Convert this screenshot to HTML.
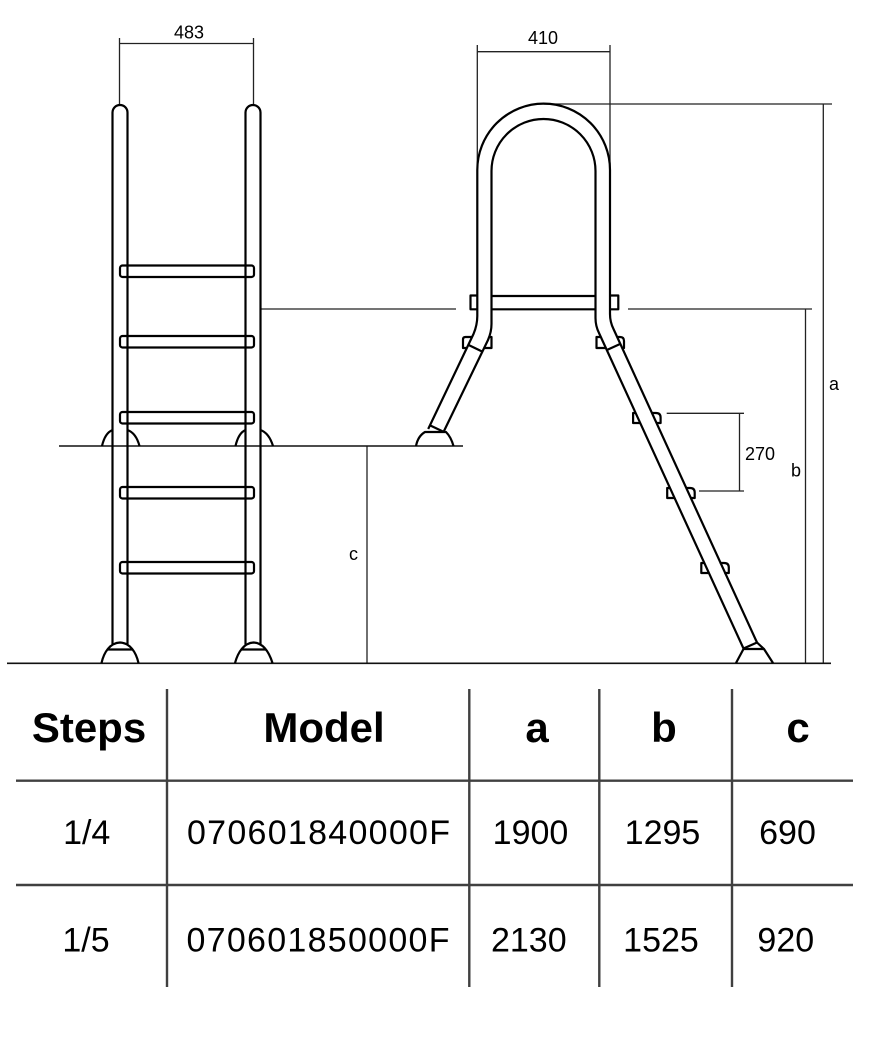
<!DOCTYPE html>
<html>
<head>
<meta charset="utf-8">
<style>
  html,body{margin:0;padding:0;background:#fff;}
  body{width:887px;height:1052px;overflow:hidden;}
  svg{display:block;}
  text{font-family:"Liberation Sans",Arial,sans-serif;fill:#000;}
</style>
</head>
<body>
<svg width="887" height="1052" viewBox="0 0 887 1052" xmlns="http://www.w3.org/2000/svg">
  <rect width="887" height="1052" fill="#fff"/>

  <!-- ===== Dimension lines (thin) ===== -->
  <g stroke="#222" stroke-width="1.3" fill="none">
    <!-- 483 -->
    <path d="M119.5,43.5 L253.5,43.5 M119.5,38 L119.5,105 M253.5,38 L253.5,105"/>
    <!-- 410 -->
    <path d="M477.3,51.7 L610,51.7 M477.3,45 L477.3,170 M610,45 L610,170"/>
    <!-- a -->
    <path d="M543.7,104 L832,104 M823.3,104 L823.3,663"/>
    <!-- b -->
    <path d="M805.5,309 L805.5,663"/>
    <!-- level line at b -->
    <path d="M261,309 L456,309 M628,309 L812,309"/>
    <!-- 270 -->
    <path d="M666.7,413.3 L744,413.3 M699,491 L744,491 M739.5,413.3 L739.5,491"/>
    <!-- c -->
    <path d="M367,446 L367,663"/>
  </g>
  <!-- deck line & ground -->
  <g stroke="#111" stroke-width="1.6" fill="none">
    <path d="M59,446 L463,446"/>
    <path d="M7,663.3 L831,663.3"/>
  </g>

  <!-- dimension labels -->
  <g font-size="18">
    <text x="189" y="38.3" text-anchor="middle">483</text>
    <text x="543" y="44" text-anchor="middle">410</text>
    <text x="745" y="460">270</text>
    <text x="829" y="390">a</text>
    <text x="791" y="476.5">b</text>
    <text x="349" y="560">c</text>
  </g>

  <!-- ===== Left ladder (front view) ===== -->
  <g stroke="#000" stroke-width="2.2" fill="none" stroke-linejoin="round">
    <!-- rungs -->
    <rect x="120" y="265.5" width="134" height="11.5" rx="2.5"/>
    <rect x="120" y="336" width="134" height="11.5" rx="2.5"/>
    <rect x="120" y="412" width="134" height="11.5" rx="2.5"/>
    <rect x="120" y="487" width="134" height="11.5" rx="2.5"/>
    <rect x="120" y="562" width="134" height="11.5" rx="2.5"/>
    <!-- rails -->
    <path d="M112.5,645 L112.5,112.5 A7.5,7.5 0 0 1 127.5,112.5 L127.5,645"/>
    <path d="M245.5,645 L245.5,112.5 A7.5,7.5 0 0 1 260.5,112.5 L260.5,645"/>
    <!-- deck anchors -->
    <path d="M102,446 Q105,433 112.5,430"/>
    <path d="M127.5,430 Q136,433 139.5,446"/>
    <path d="M235.5,446 Q238.5,433 245.5,430"/>
    <path d="M260.5,430 Q269,433 273,446"/>
    <!-- feet -->
    <path d="M101.5,663 C104,652 110,643 120,642.5 C130,643 136,652 138.5,663"/>
    <path d="M108,649.5 L132,649.5"/>
    <path d="M235,663 C238,652 244,643 253.5,642.5 C263,643 269,652 272.5,663"/>
    <path d="M241.5,649.5 L265.5,649.5"/>
  </g>

  <!-- ===== Right ladder (side view) ===== -->
  <g stroke="#000" stroke-width="2.2" fill="none" stroke-linejoin="round">
    <!-- arch outer / left leg outer / right leg outer -->
    <path d="M428.2,429 L473.5,334 Q477.3,325 477.3,316 L477.3,170 A66.35,66.35 0 0 1 610,170 L610,314 Q610,322 613.5,329 L757,642.5"/>
    <!-- arch inner / legs inner -->
    <path d="M444,431 L488,340 Q491.5,332 491.5,324 L491.5,171 A52,52 0 0 1 595.5,171 L595.5,318 Q595.5,326 599,333 L743.5,648.5"/>
    <!-- crossbar -->
    <path d="M491.5,296 L595.5,296 M491.5,309.3 L595.5,309.3"/>
    <!-- crossbar tabs -->
    <path d="M477.3,295.5 L470.5,295.5 L470.5,309.3 L477.3,309.3"/>
    <path d="M610,295.5 L618.3,295.5 L618.3,309.3 L610,309.3"/>
    <!-- joints -->
    <path d="M468.6,345 L482.1,351.5"/>
    <path d="M606.9,350 L620.6,343.8"/>
    <!-- brackets at bend -->
    <path d="M472.4,337 L465.5,337 Q463,337 463,339.5 L463,348 L467.1,348"/>
    <path d="M489,337 L491.5,337 L491.5,348 L483.7,348"/>
    <path d="M601,337 L596.5,337 L596.5,348 L606,348"/>
    <path d="M617,337 L620,337 Q624,337 624,341 L624,348 L622,348"/>
    <!-- step brackets on right leg -->
    <path d="M635.6,413 L633.1,413 L633.1,423 L640.1,423"/>
    <path d="M651.6,413 L656,413 Q660.6,413 660.6,417.5 L660.6,423 L656.1,423"/>
    <path d="M669.7,488 L667.2,488 L667.2,498 L674.2,498"/>
    <path d="M685.7,488 L690.1,488 Q694.7,488 694.7,492.5 L694.7,498 L690.2,498"/>
    <path d="M703.8,563 L701.3,563 L701.3,573 L708.3,573"/>
    <path d="M719.8,563 L724.2,563 Q728.8,563 728.8,567.5 L728.8,573 L724.3,573"/>
    <!-- left foot -->
    <path d="M416,446 Q418,436 425,432 L446,432 Q451,437 453.5,446"/>
    <path d="M429.8,425.3 L444,432"/>
    <!-- right foot -->
    <path d="M736,663 L743.5,649 L764,649 L773,663"/>
    <path d="M743.5,648.5 L757,642.5 L764,649"/>
  </g>

  <!-- ===== Table ===== -->
  <g stroke="#404040" stroke-width="2.4" fill="none">
    <path d="M16,780.7 L853,780.7 M16,885 L853,885"/>
    <path d="M167,689 L167,987 M469.3,689 L469.3,987 M599.3,689 L599.3,987 M732,689 L732,987"/>
  </g>

  <g font-size="42" font-weight="bold" text-anchor="middle">
    <text x="89" y="742">Steps</text>
    <text x="324" y="742">Model</text>
    <text x="537" y="742">a</text>
    <text x="664" y="742">b</text>
    <text x="798" y="742">c</text>
  </g>

  <g font-size="34">
    <text x="86.7" y="844" text-anchor="middle">1/4</text>
    <text x="187" y="844" textLength="263" lengthAdjust="spacing">070601840000F</text>
    <text x="530.5" y="844" text-anchor="middle">1900</text>
    <text x="662.5" y="844" text-anchor="middle">1295</text>
    <text x="787.5" y="844" text-anchor="middle">690</text>

    <text x="86" y="951.5" text-anchor="middle">1/5</text>
    <text x="186.5" y="951.5" textLength="263" lengthAdjust="spacing">070601850000F</text>
    <text x="528.8" y="951.5" text-anchor="middle">2130</text>
    <text x="661" y="951.5" text-anchor="middle">1525</text>
    <text x="785.8" y="951.5" text-anchor="middle">920</text>
  </g>
</svg>
</body>
</html>
